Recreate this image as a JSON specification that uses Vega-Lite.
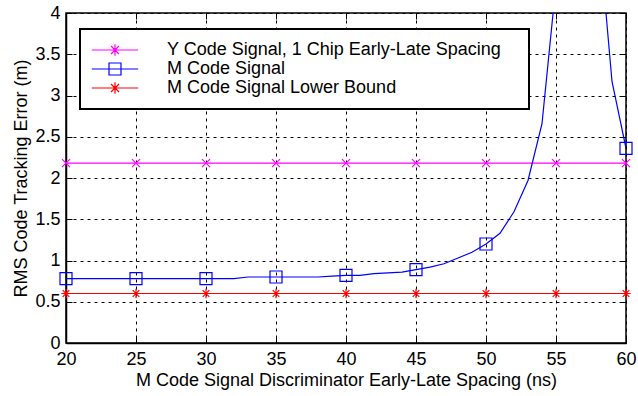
{
  "$schema": "https://vega.github.io/schema/vega-lite/v6.json",
  "width": 560,
  "height": 330,
  "autosize": {"type": "none"},
  "padding": {"left": 66, "top": 13, "right": 12, "bottom": 53},
  "background": "white",
  "config": {
    "font": "Liberation Sans",
    "view": {"stroke": "black", "strokeWidth": 1.5},
    "axis": {
      "grid": true,
      "gridDash": [3, 4],
      "gridColor": "black",
      "gridOpacity": 1,
      "gridWidth": 1,
      "tickSize": -6,
      "tickColor": "black",
      "tickWidth": 1,
      "domainColor": "black",
      "domainWidth": 1.5,
      "labelFontSize": 18,
      "labelColor": "black",
      "labelFont": "Liberation Sans",
      "labelFlush": false,
      "labelOverlap": false,
      "titleFontSize": 18,
      "titleFont": "Liberation Sans",
      "titleFontWeight": "normal",
      "titleColor": "black"
    }
  },
  "data": {
    "values": [
      {"series": "Y Code Signal, 1 Chip Early-Late Spacing", "x": 20, "y": 2.18},
      {"series": "Y Code Signal, 1 Chip Early-Late Spacing", "x": 25, "y": 2.18},
      {"series": "Y Code Signal, 1 Chip Early-Late Spacing", "x": 30, "y": 2.18},
      {"series": "Y Code Signal, 1 Chip Early-Late Spacing", "x": 35, "y": 2.18},
      {"series": "Y Code Signal, 1 Chip Early-Late Spacing", "x": 40, "y": 2.18},
      {"series": "Y Code Signal, 1 Chip Early-Late Spacing", "x": 45, "y": 2.18},
      {"series": "Y Code Signal, 1 Chip Early-Late Spacing", "x": 50, "y": 2.18},
      {"series": "Y Code Signal, 1 Chip Early-Late Spacing", "x": 55, "y": 2.18},
      {"series": "Y Code Signal, 1 Chip Early-Late Spacing", "x": 60, "y": 2.18},
      {"series": "M Code Signal", "x": 20, "y": 0.78},
      {"series": "M Code Signal", "x": 21, "y": 0.78},
      {"series": "M Code Signal", "x": 22, "y": 0.78},
      {"series": "M Code Signal", "x": 23, "y": 0.78},
      {"series": "M Code Signal", "x": 24, "y": 0.78},
      {"series": "M Code Signal", "x": 25, "y": 0.78},
      {"series": "M Code Signal", "x": 26, "y": 0.78},
      {"series": "M Code Signal", "x": 27, "y": 0.78},
      {"series": "M Code Signal", "x": 28, "y": 0.78},
      {"series": "M Code Signal", "x": 29, "y": 0.78},
      {"series": "M Code Signal", "x": 30, "y": 0.78},
      {"series": "M Code Signal", "x": 31, "y": 0.78},
      {"series": "M Code Signal", "x": 32, "y": 0.78},
      {"series": "M Code Signal", "x": 33, "y": 0.8},
      {"series": "M Code Signal", "x": 34, "y": 0.8},
      {"series": "M Code Signal", "x": 35, "y": 0.8},
      {"series": "M Code Signal", "x": 36, "y": 0.8},
      {"series": "M Code Signal", "x": 37, "y": 0.8},
      {"series": "M Code Signal", "x": 38, "y": 0.8},
      {"series": "M Code Signal", "x": 39, "y": 0.81},
      {"series": "M Code Signal", "x": 40, "y": 0.82},
      {"series": "M Code Signal", "x": 41, "y": 0.82},
      {"series": "M Code Signal", "x": 42, "y": 0.84},
      {"series": "M Code Signal", "x": 43, "y": 0.85},
      {"series": "M Code Signal", "x": 44, "y": 0.86},
      {"series": "M Code Signal", "x": 45, "y": 0.89},
      {"series": "M Code Signal", "x": 46, "y": 0.92},
      {"series": "M Code Signal", "x": 47, "y": 0.96},
      {"series": "M Code Signal", "x": 48, "y": 1.03},
      {"series": "M Code Signal", "x": 49, "y": 1.1},
      {"series": "M Code Signal", "x": 50, "y": 1.2},
      {"series": "M Code Signal", "x": 51, "y": 1.33},
      {"series": "M Code Signal", "x": 52, "y": 1.59},
      {"series": "M Code Signal", "x": 53, "y": 1.97},
      {"series": "M Code Signal", "x": 54, "y": 2.66},
      {"series": "M Code Signal", "x": 55, "y": 4.35},
      {"series": "M Code Signal", "x": 56, "y": 9},
      {"series": "M Code Signal", "x": 57, "y": 9},
      {"series": "M Code Signal", "x": 58, "y": 5.1},
      {"series": "M Code Signal", "x": 59, "y": 3.17},
      {"series": "M Code Signal", "x": 60, "y": 2.36},
      {"series": "M Code Signal Lower Bound", "x": 20, "y": 0.6},
      {"series": "M Code Signal Lower Bound", "x": 25, "y": 0.6},
      {"series": "M Code Signal Lower Bound", "x": 30, "y": 0.6},
      {"series": "M Code Signal Lower Bound", "x": 35, "y": 0.6},
      {"series": "M Code Signal Lower Bound", "x": 40, "y": 0.6},
      {"series": "M Code Signal Lower Bound", "x": 45, "y": 0.6},
      {"series": "M Code Signal Lower Bound", "x": 50, "y": 0.6},
      {"series": "M Code Signal Lower Bound", "x": 55, "y": 0.6},
      {"series": "M Code Signal Lower Bound", "x": 60, "y": 0.6}
    ]
  },
  "resolve": {"axis": {"x": "independent", "y": "independent"}},
  "layer": [
    {
      "mark": {"type": "line", "clip": true, "strokeWidth": 1.2},
      "encoding": {
        "x": {
          "field": "x",
          "type": "quantitative",
          "scale": {"domain": [20, 60], "nice": false, "zero": false},
          "axis": {
            "title": "M Code Signal Discriminator Early-Late Spacing (ns)",
            "values": [20, 25, 30, 35, 40, 45, 50, 55, 60],
            "labelPadding": 13,
            "titlePadding": 3
          }
        },
        "y": {
          "field": "y",
          "type": "quantitative",
          "scale": {"domain": [0, 4], "nice": false, "zero": false},
          "axis": {
            "title": "RMS Code Tracking Error (m)",
            "values": [0, 0.5, 1, 1.5, 2, 2.5, 3, 3.5, 4],
            "format": "~g",
            "labelPadding": 12,
            "titlePadding": 4
          }
        },
        "color": {
          "field": "series",
          "type": "nominal",
          "scale": {
            "domain": ["Y Code Signal, 1 Chip Early-Late Spacing", "M Code Signal", "M Code Signal Lower Bound"],
            "range": ["#ff00ff", "#0000ff", "#ff0000"]
          },
          "legend": {
            "orient": "none",
            "legendX": 14,
            "legendY": 16,
            "title": null,
            "fillColor": "white",
            "strokeColor": "black",
            "padding": 12,
            "labelFontSize": 18,
            "labelFont": "Liberation Sans",
            "labelColor": "black",
            "labelLimit": 600,
            "labelExpr": "datum.label + '\u00a0\u00a0\u00a0\u200b'",
            "symbolSize": 256,
            "symbolOffset": 14,
            "labelOffset": 43,
            "rowPadding": 1,
            "symbolStrokeWidth": 1.2,
            "encode": {
              "legend": {"update": {"strokeWidth": {"value": 2}}},
              "symbols": {
                "update": {
                  "shape": {"signal": "datum.value === 'M Code Signal' ? 'M-2.9,0H2.9M-0.75,-0.75H0.75V0.75H-0.75Z' : 'M-2.9,0H2.9M0,-0.72V0.72M-0.66,0H0.66M-0.5,-0.5L0.5,0.5M-0.5,0.5L0.5,-0.5'"},
                  "fill": {"value": "transparent"},
                  "stroke": {"scale": "color", "field": "value"},
                  "strokeWidth": {"value": 1.2},
                  "opacity": {"value": 1}
                }
              }
            }
          }
        }
      }
    },
    {
      "transform": [
        {"filter": "datum.series === 'Y Code Signal, 1 Chip Early-Late Spacing'"},
        {"filter": "datum.x % 5 == 0 && datum.y <= 4"}
      ],
      "mark": {"type": "point", "filled": false, "stroke": "#ff00ff", "strokeWidth": 1.2, "size": 144, "opacity": 1,
               "shape": "M-0.67,-0.67L0.67,0.67M-0.67,0.67L0.67,-0.67"},
      "encoding": {
        "x": {"field": "x", "type": "quantitative", "axis": null},
        "y": {"field": "y", "type": "quantitative", "axis": null}
      }
    },
    {
      "transform": [
        {"filter": "datum.series === 'M Code Signal'"},
        {"filter": "datum.x % 5 == 0 && datum.y <= 4"}
      ],
      "mark": {"type": "point", "filled": false, "stroke": "#0000ff", "strokeWidth": 1.2, "size": 144, "opacity": 1,
               "shape": "M-1,-1H1V1H-1Z"},
      "encoding": {
        "x": {"field": "x", "type": "quantitative", "axis": null},
        "y": {"field": "y", "type": "quantitative", "axis": null}
      }
    },
    {
      "transform": [
        {"filter": "datum.series === 'M Code Signal Lower Bound'"},
        {"filter": "datum.x % 5 == 0 && datum.y <= 4"}
      ],
      "mark": {"type": "point", "filled": false, "stroke": "#ff0000", "strokeWidth": 1.2, "size": 144, "opacity": 1,
               "shape": "M-0.78,0H0.78M0,-0.78V0.78M-0.55,-0.55L0.55,0.55M-0.55,0.55L0.55,-0.55"},
      "encoding": {
        "x": {
          "field": "x", "type": "quantitative",
          "axis": {"orient": "top", "values": [20, 25, 30, 35, 40, 45, 50, 55, 60], "labels": false, "title": null, "grid": false, "domain": false}
        },
        "y": {
          "field": "y", "type": "quantitative",
          "axis": {"orient": "right", "values": [0, 0.5, 1, 1.5, 2, 2.5, 3, 3.5, 4], "labels": false, "title": null, "grid": false, "domain": false}
        }
      }
    }
  ]
}
